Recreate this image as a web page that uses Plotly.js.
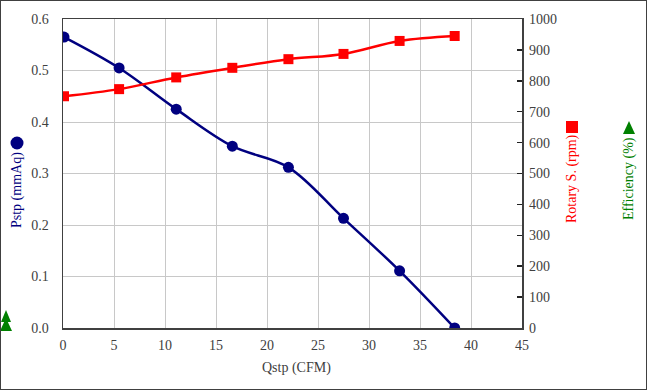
<!DOCTYPE html>
<html><head><meta charset="utf-8">
<script src="https://cdn.plot.ly/plotly-3.0.1.min.js"></script>
<style>html,body{margin:0;padding:0;background:#fff}#c{width:645px;height:388px;border:1px solid #404040}</style>
</head><body><div id="c"></div>
<script>
var qstp = [0.1, 5.5, 11.1, 16.6, 22.1, 27.5, 33.0, 38.4];
var pstp = [0.565, 0.505, 0.425, 0.353, 0.312, 0.213, 0.111, 0.0];
var rpm = [750, 773, 811, 842, 870, 887, 929, 945];
var xTitle = 'Qstp (CFM)';
var y1Title = 'Pstp (mmAq)';
var y2Title = 'Rotary S. (rpm)';
var y3Title = 'Efficiency (%)';

var W = 528, H = 309, L = 62, T = 18;
function xp(X){return (X-1-L)/W;}
function yp(Y){return 1-(Y-1-T)/H;}
var F = 'Liberation Serif';
function tf(){return {family:F, size:14, color:'#404040'};}
function ann(X, Y, txt, color, angle){
  return {xref:'paper', yref:'paper', x:xp(X), y:yp(Y), xanchor:'center', yanchor:'middle', text:txt, textangle:angle, showarrow:false, font:{family:F, size:14, color:color}};
}

var traces = [
 {x:qstp, y:pstp, type:'scatter', mode:'lines+markers', line:{color:'#000080', width:2.5, shape:'spline'}, marker:{symbol:'circle', size:11, color:'#000080'}, yaxis:'y', hoverinfo:'skip'},
 {x:qstp, y:rpm, type:'scatter', mode:'lines+markers', line:{color:'#ff0000', width:2.5, shape:'spline'}, marker:{symbol:'square', size:10, color:'#ff0000'}, yaxis:'y2', hoverinfo:'skip'}
];
var layout = {
 width:645, height:388, margin:{l:L, r:645-L-W, t:T, b:388-T-H},
 font:{family:F, size:14, color:'#404040'},
 paper_bgcolor:'#fff', plot_bgcolor:'#fff', showlegend:false,
 xaxis:{domain:[0, 459/528], range:[0,45], dtick:5, tick0:0, showgrid:true, gridcolor:'#c8c8c8', gridwidth:1, zeroline:false, showline:true, linecolor:'#404040', linewidth:1.5, mirror:true, ticks:'', tickfont:tf(), ticklabelstandoff:4},
 yaxis:{range:[0,0.6], dtick:0.1, tickformat:'.1f', showgrid:true, gridcolor:'#c8c8c8', gridwidth:1, zeroline:false, showline:true, linecolor:'#404040', linewidth:1.5, mirror:true, ticks:'', tickfont:tf(), ticklabelstandoff:10},
 yaxis2:{overlaying:'y', side:'right', anchor:'x', range:[0,1000], dtick:100, showgrid:false, zeroline:false, showline:false, ticks:'inside', ticklen:5, tickcolor:'#222', tickwidth:1.5, tickfont:tf(), ticklabelstandoff:6},
 yaxis3:{overlaying:'y', side:'right', anchor:'free', position:1, range:[0,100], dtick:10, showgrid:false, zeroline:false, showline:true, linecolor:'#888', linewidth:1.5, ticks:'inside', ticklen:5, tickcolor:'#222', tickwidth:1.5, tickfont:tf(), ticklabelstandoff:6},
 annotations:[
  ann(296, 368, xTitle, '#404040', 0),
  ann(17, 190, y1Title, '#000080', -90),
  ann(572, 179, y2Title, '#ff0000', -90),
  ann(629, 179, y3Title, '#008000', -90)
 ],
 shapes:[
  {type:'circle', xref:'paper', yref:'paper', xsizemode:'pixel', ysizemode:'pixel', xanchor:xp(17), yanchor:yp(143), x0:-6.5, x1:6.5, y0:-6.5, y1:6.5, fillcolor:'#000080', line:{width:0}},
  {type:'rect', xref:'paper', yref:'paper', xsizemode:'pixel', ysizemode:'pixel', xanchor:xp(572), yanchor:yp(127), x0:-6, x1:6, y0:-6, y1:6, fillcolor:'#ff0000', line:{width:0}},
  {type:'path', xref:'paper', yref:'paper', xsizemode:'pixel', ysizemode:'pixel', xanchor:xp(629), yanchor:yp(128), path:'M -6 -6 L 6 -6 L 0 7 Z', fillcolor:'#008000', line:{width:0}},
  {type:'path', xref:'paper', yref:'paper', xsizemode:'pixel', ysizemode:'pixel', xanchor:xp(6), yanchor:yp(326), path:'M -6 -5 L 6 -5 L 0 8 Z', fillcolor:'#008000', line:{width:0}},
  {type:'path', xref:'paper', yref:'paper', xsizemode:'pixel', ysizemode:'pixel', xanchor:xp(6), yanchor:yp(318), path:'M -5 -4 L 5 -4 L 0 8 Z', fillcolor:'#008000', line:{width:0}}
 ]
};
Plotly.newPlot('c', traces, layout, {displayModeBar:false, staticPlot:true});
</script></body></html>
